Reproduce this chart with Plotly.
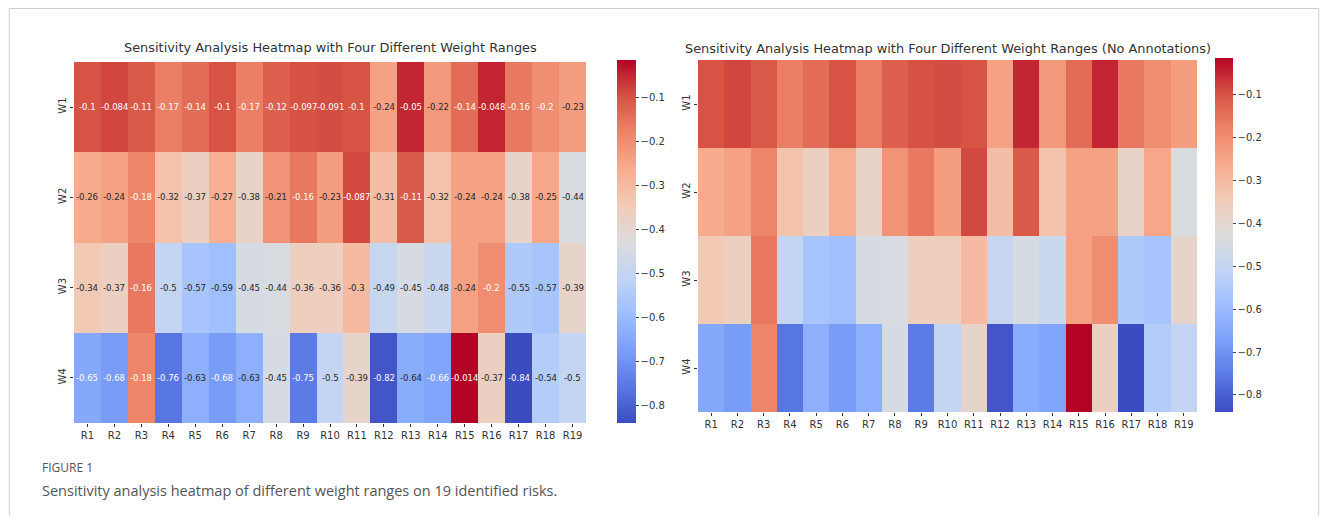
import plotly.graph_objects as go

# page is rendered with an 8px body margin: build a figure that fits inside it
OFF = 8
W_px, H_px = 1328 - 2 * OFF, 524 - 2 * OFF

risks = [f"R{i}" for i in range(1, 20)]
weights = ["W1", "W2", "W3", "W4"]

w1 = [-0.1, -0.084, -0.11, -0.17, -0.14, -0.1, -0.17, -0.12, -0.097, -0.091, -0.1, -0.24, -0.05, -0.22, -0.14, -0.048, -0.16, -0.2, -0.23]
w2 = [-0.26, -0.24, -0.18, -0.32, -0.37, -0.27, -0.38, -0.21, -0.16, -0.23, -0.087, -0.31, -0.11, -0.32, -0.24, -0.24, -0.38, -0.25, -0.44]
w3 = [-0.34, -0.37, -0.16, -0.5, -0.57, -0.59, -0.45, -0.44, -0.36, -0.36, -0.3, -0.49, -0.45, -0.48, -0.24, -0.2, -0.55, -0.57, -0.39]
w4 = [-0.65, -0.68, -0.18, -0.76, -0.63, -0.68, -0.63, -0.45, -0.75, -0.5, -0.39, -0.82, -0.64, -0.66, -0.014, -0.37, -0.84, -0.54, -0.5]
z = [w1, w2, w3, w4]

cb_ticks = [-0.1, -0.2, -0.3, -0.4, -0.5, -0.6, -0.7, -0.8]

coolwarm_hex = ["#3b4cc0", "#5977e3", "#7b9ff9", "#9ebeff", "#c0d4f5", "#dddcdc",
                "#f2cbb7", "#f7ac8e", "#ee8468", "#d65244", "#b40426"]
colorscale = [[i / 10, c] for i, c in enumerate(coolwarm_hex)]

zmin = min(min(r) for r in z)
zmax = max(max(r) for r in z)


def hex2rgb(h):
    return tuple(int(h[i:i + 2], 16) / 255 for i in (1, 3, 5))


def color_at(t):
    t = max(0, min(1, t))
    i = min(int(t * 10), 9)
    f = t * 10 - i
    a, b = hex2rgb(coolwarm_hex[i]), hex2rgb(coolwarm_hex[i + 1])
    return tuple(a[k] + (b[k] - a[k]) * f for k in range(3))


def lum(rgb):
    def lin(c):
        return c / 12.92 if c <= 0.03928 else ((c + 0.055) / 1.055) ** 2.4
    r, g, b = (lin(c) for c in rgb)
    return 0.2126 * r + 0.7152 * g + 0.0722 * b


def fmt(v):
    return f"{v:.2g}"


def px_x(p):
    return (p - OFF) / W_px


def px_y(p):
    return 1 - (p - OFF) / H_px


fig = go.Figure()

cb_font = dict(family="DejaVu Sans", size=10, color="#333")

fig.add_trace(go.Heatmap(
    z=z, x=risks, y=weights, xaxis="x", yaxis="y",
    colorscale=colorscale, zmin=zmin, zmax=zmax,
    showscale=True,
    colorbar=dict(x=px_x(617), xanchor="left", y=px_y(241.5), yanchor="middle",
                  lenmode="pixels", len=363, thickness=19, outlinewidth=0,
                  ypad=0, xpad=0,
                  tickvals=cb_ticks, ticks="outside", ticklen=3, tickfont=cb_font),
    hoverinfo="skip",
))

annos = []
for ri, row in enumerate(z):
    for ci, v in enumerate(row):
        t = (v - zmin) / (zmax - zmin)
        col = "white" if lum(color_at(t)) < 0.408 else "#262626"
        annos.append(dict(x=risks[ci], y=weights[ri], xref="x", yref="y",
                          text=fmt(v), showarrow=False,
                          font=dict(family="DejaVu Sans", size=8.5, color=col)))

fig.add_trace(go.Heatmap(
    z=z, x=risks, y=weights, xaxis="x2", yaxis="y2",
    colorscale=colorscale, zmin=zmin, zmax=zmax,
    showscale=True,
    colorbar=dict(x=px_x(1215), xanchor="left", y=px_y(235), yanchor="middle",
                  lenmode="pixels", len=354, thickness=18, outlinewidth=0,
                  ypad=0, xpad=0,
                  tickvals=cb_ticks, ticks="outside", ticklen=3, tickfont=cb_font),
    hoverinfo="skip",
))

axis_font = dict(family="DejaVu Sans", size=10, color="#333")
common_x = dict(ticks="outside", ticklen=3, tickcolor="#333", showgrid=False,
                zeroline=False, showline=False, tickfont=axis_font, tickangle=0)
common_y = dict(ticks="outside", ticklen=3, tickcolor="#333", showgrid=False,
                zeroline=False, showline=False, tickfont=axis_font,
                tickangle=-90, autorange="reversed")

title_font = dict(family="DejaVu Sans", size=12.9, color="#333")
annos.append(dict(x=px_x(330), y=px_y(48), xref="paper", yref="paper",
                  xanchor="center", yanchor="middle",
                  text="Sensitivity Analysis Heatmap with Four Different Weight Ranges",
                  showarrow=False, font=title_font))
annos.append(dict(x=px_x(948), y=px_y(49), xref="paper", yref="paper",
                  xanchor="center", yanchor="middle",
                  text="Sensitivity Analysis Heatmap with Four Different Weight Ranges (No Annotations)",
                  showarrow=False, font=title_font))
annos.append(dict(x=px_x(40), y=px_y(467), xref="paper", yref="paper",
                  xanchor="left", yanchor="middle",
                  text="FIGURE 1", showarrow=False,
                  font=dict(family="Open Sans", size=12, color="#555")))
annos.append(dict(x=px_x(40), y=px_y(490), xref="paper", yref="paper",
                  xanchor="left", yanchor="middle",
                  text="Sensitivity analysis heatmap of different weight ranges on 19 identified risks.",
                  showarrow=False, font=dict(family="Open Sans", size=14.5, color="#555")))

fig.update_layout(
    width=W_px, height=H_px,
    margin=dict(l=0, r=0, t=0, b=0),
    paper_bgcolor="white", plot_bgcolor="white",
    xaxis=dict(domain=[px_x(74), px_x(586)], anchor="y", **common_x),
    yaxis=dict(domain=[px_y(423), px_y(62)], anchor="x", **common_y),
    xaxis2=dict(domain=[px_x(698), px_x(1197)], anchor="y2", **common_x),
    yaxis2=dict(domain=[px_y(412), px_y(60)], anchor="x2", **common_y),
    annotations=annos,
    shapes=[dict(type="rect", xref="paper", yref="paper",
                 x0=0.001, x1=0.999, y0=-0.02, y1=0.999,
                 line=dict(color="#cfcfcf", width=1), fillcolor="rgba(0,0,0,0)")],
    showlegend=False,
)

fig.write_html("out.html")
